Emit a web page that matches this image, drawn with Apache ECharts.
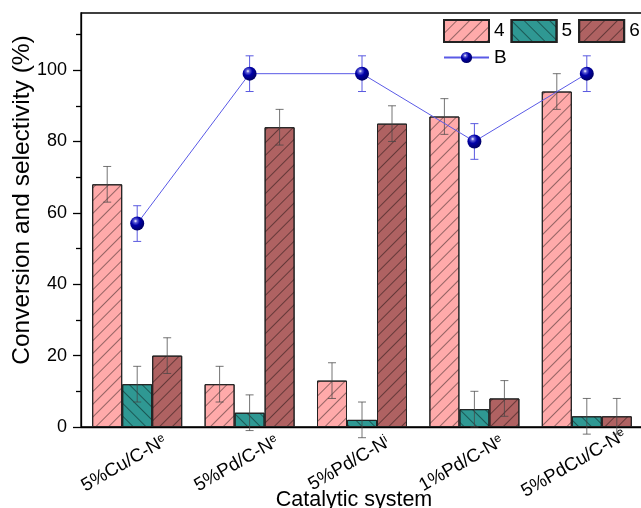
<!DOCTYPE html>
<html>
<head>
<meta charset="utf-8">
<script src="https://cdn.jsdelivr.net/npm/echarts@6/dist/echarts.min.js"></script>
<style>html,body{margin:0;padding:0;background:#fff;}#c{width:641px;height:508px;}</style>
</head>
<body>
<div id="c"></div>
<script>
// ---- data ----
var categories = ['5%Cu/C-N', '5%Pd/C-N', '5%Pd/C-N', '1%Pd/C-N', '5%PdCu/C-N'];
var superscripts = ['e', 'e', 'i', 'e', 'e'];
var s4 = [68, 12, 13, 87, 94];
var s5 = [12, 4, 2, 5, 3];
var s6 = [20, 84, 85, 8, 3];
var sB = [57, 99, 99, 80, 99];
var err4 = [5, 5, 5, 5, 5];
var err5 = [5, 5, 5, 5, 5];
var err6 = [5, 5, 5, 5, 5];
var errB = [5, 5, 5, 5, 5];
var yMajorTicks = [0, 20, 40, 60, 80, 100];
var yMinorTicks = [10, 30, 50, 70, 90, 110];

// ---- style ----
var FONT = '"Liberation Sans", Arial, sans-serif';
var BAR_W = 30;
var colors = ['#FFAAAA', '#2F9893', '#AF6262'];
function hatch(dir) {
  return { symbol: 'rect', symbolSize: 1, dashArrayX: [1, 0], dashArrayY: [1, 8],
           rotation: dir * Math.PI / 4, color: 'rgba(0,0,0,0.42)' };
}
var sphere = new echarts.graphic.RadialGradient(0.38, 0.32, 0.7, [
  { offset: 0, color: '#ffffff' }, { offset: 0.18, color: '#5b5bd6' },
  { offset: 0.45, color: '#0000a8' }, { offset: 1, color: '#000060' }
]);

function errData(vals, errs, k) {
  return vals.map(function (v, i) { return [i, v, errs[i], (k - 1) * BAR_W]; });
}
function errRender(capHalf, color) {
  return function (params, api) {
    var i = api.value(0), v = api.value(1), e = api.value(2), off = api.value(3);
    var top = api.coord([i, v + e]), bot = api.coord([i, v - e]);
    var x = top[0] + off;
    var st = { stroke: color, lineWidth: 1 };
    return { type: 'group', children: [
      { type: 'line', shape: { x1: x, y1: top[1], x2: x, y2: bot[1] }, style: st },
      { type: 'line', shape: { x1: x - capHalf, y1: top[1], x2: x + capHalf, y2: top[1] }, style: st },
      { type: 'line', shape: { x1: x - capHalf, y1: bot[1], x2: x + capHalf, y2: bot[1] }, style: st }
    ] };
  };
}

var barNames = ['4', '5', '6'];
var barVals = [s4, s5, s6];
var barErrs = [err4, err5, err6];
var hatchDir = [-1, 1, -1];
var series = [];
barVals.forEach(function (vals, k) {
  series.push({
    name: barNames[k], type: 'bar', data: vals, barWidth: BAR_W, barGap: '0%', z: 1,
    itemStyle: { color: colors[k], borderColor: '#222', borderWidth: 1, decal: hatch(hatchDir[k]) },
    emphasis: { disabled: true }
  });
});
barVals.forEach(function (vals, k) {
  series.push({
    type: 'custom', z: 2, data: errData(vals, barErrs[k], k),
    renderItem: errRender(4, 'rgba(70,70,70,0.75)'), silent: true
  });
});
series.push({
  type: 'custom', z: 3, data: errData(sB, errB, 1),
  renderItem: errRender(4, '#5a5ae0'), silent: true
});
series.push({
  name: 'B', type: 'line', data: sB, z: 4,
  symbol: 'circle', symbolSize: 14,
  lineStyle: { color: '#5a5ae6', width: 1 },
  itemStyle: { color: sphere, borderWidth: 0 }
});

var legendText = { fontSize: 19, color: '#000', fontFamily: FONT };
var chart = echarts.init(document.getElementById('c'), null, { renderer: 'canvas' });
chart.setOption({
  animation: false,
  textStyle: { fontFamily: FONT },
  grid: { left: 81, top: 13, right: -2, bottom: 81, show: true, borderColor: '#000', borderWidth: 1.3,
          containLabel: false, outerBoundsMode: 'none' },
  legend: [
    { data: [{ name: '4', icon: 'rect' }, { name: '5', icon: 'rect' }, { name: '6', icon: 'rect' }],
      left: 443, top: 19, width: 240, padding: 0, itemWidth: 45, itemHeight: 22, itemGap: 6,
      textStyle: legendText, selectedMode: false },
    { data: ['B'], left: 443, top: 48, width: 100, padding: 0, itemWidth: 45, itemHeight: 14,
      textStyle: legendText, selectedMode: false }
  ],
  xAxis: [
    { type: 'category', data: categories, boundaryGap: true,
      axisLine: { lineStyle: { color: '#000', width: 1.3 } },
      axisTick: { alignWithLabel: true, length: 7, lineStyle: { color: '#000', width: 1.3 } },
      axisLabel: {
        rotate: 30, align: 'center', verticalAlign: 'middle', margin: 29, padding: [0, 30, 0, 0],
        interval: 0,
        formatter: function (v, i) { return '{a|' + v + '}{s|' + superscripts[i] + '}'; },
        rich: { a: { fontSize: 18.5, color: '#000', fontFamily: FONT },
                s: { fontSize: 12, color: '#000', fontFamily: FONT, verticalAlign: 'top' } }
      },
      name: 'Catalytic system', nameLocation: 'middle', nameGap: 62, nameMoveOverlap: false,
      nameTextStyle: { fontSize: 21.5, color: '#000', fontFamily: FONT, padding: [0, 16, 0, 0] }
    },
    { type: 'category', data: categories, boundaryGap: true, position: 'bottom',
      axisLine: { show: false }, axisLabel: { show: false },
      axisTick: { alignWithLabel: false, length: 4, lineStyle: { color: '#000', width: 1.3 } } }
  ],
  yAxis: [
    { type: 'value', min: 0, max: 116,
      axisLine: { show: true, lineStyle: { color: '#000', width: 1.3 } },
      axisTick: { show: true, length: 8, customValues: yMajorTicks, lineStyle: { color: '#000', width: 1.3 } },
      axisLabel: { customValues: yMajorTicks, fontSize: 18, color: '#000', margin: 14, fontFamily: FONT },
      splitLine: { show: false },
      name: 'Conversion and selectivity (%)', nameLocation: 'middle', nameGap: 46, nameMoveOverlap: false,
      nameTextStyle: { fontSize: 24.5, color: '#000', fontFamily: FONT, padding: [0, 0, 0, 40] }
    },
    { type: 'value', min: 0, max: 116, position: 'left',
      axisLine: { show: false },
      axisTick: { show: true, length: 5, customValues: yMinorTicks, lineStyle: { color: '#000', width: 1.3 } },
      axisLabel: { show: false }, splitLine: { show: false } }
  ],
  series: series
});
</script>
</body>
</html>
